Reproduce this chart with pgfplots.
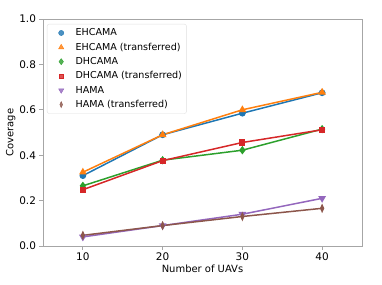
\documentclass[border=0pt]{standalone}
\usepackage{pgfplots}
\pgfplotsset{compat=1.18}
\usepackage{fontspec}
\setmainfont{DejaVu Sans}
\definecolor{c0}{HTML}{1F77B4}
\definecolor{c1}{HTML}{FF7F0E}
\definecolor{c2}{HTML}{2CA02C}
\definecolor{c3}{HTML}{D62728}
\definecolor{c4}{HTML}{9467BD}
\definecolor{c5}{HTML}{8C564B}
\begin{document}
\begin{tikzpicture}[x=1bp,y=1bp]
\begin{axis}[
  at={(0,0)}, anchor=south west,
  scale only axis, width=319bp, height=227bp,
  xmin=5, xmax=45, ymin=0, ymax=1,
  xtick={10,20,30,40}, ytick={0,0.2,0.4,0.6,0.8,1.0},
  yticklabel style={/pgf/number format/.cd,fixed,fixed zerofill,precision=1},
  /pgf/number format/assume math mode=true,
  tick align=outside, tick pos=left,
  major tick length=3.5bp,
  axis line style={gray!70, line width=0.8pt},
  every tick/.style={gray!70, line width=0.8pt},
  tick label style={font=\fontsize{10.5}{12}\selectfont},
  label style={font=\fontsize{10}{12}\selectfont},
  xlabel={Number of UAVs}, ylabel={Coverage},
  xlabel style={yshift=3bp}, ylabel style={yshift=-3bp},
  every axis plot/.append style={line width=1.5pt, mark size=2.6pt},
]
\addplot[c0, mark=*, mark options={solid,fill=c0,draw=c0}] coordinates {(10,0.310) (20,0.490) (30,0.585) (40,0.675)};
\addplot[c1, mark=triangle*, mark options={solid,fill=c1,draw=c1}, mark size=3pt] coordinates {(10,0.325) (20,0.490) (30,0.600) (40,0.677)};
\addplot[c2, mark=diamond*, mark options={solid,fill=c2,draw=c2}, mark size=3pt] coordinates {(10,0.265) (20,0.378) (30,0.422) (40,0.515)};
\addplot[c3, mark=square*, mark options={solid,fill=c3,draw=c3}, mark size=2.3pt] coordinates {(10,0.248) (20,0.376) (30,0.456) (40,0.512)};
\addplot[c4, mark=triangle*, mark options={solid,fill=c4,draw=c4,rotate=180}, mark size=3pt] coordinates {(10,0.040) (20,0.090) (30,0.140) (40,0.210)};
\addplot[c5, mark=diamond*, mark options={solid,fill=c5,draw=c5,xscale=0.6}, mark size=3pt] coordinates {(10,0.047) (20,0.090) (30,0.130) (40,0.166)};
\end{axis}
\begin{axis}[
  at={(0,0)}, anchor=south west,
  scale only axis, width=319bp, height=227bp,
  xmin=5, xmax=45, ymin=0, ymax=1,
  hide axis,
  legend style={at={(0.0125,0.978)}, anchor=north west, font=\fontsize{9.6}{11.5}\selectfont,
    draw=gray!25, rounded corners=2pt, inner sep=2.5pt, row sep=1.7pt, fill=white, fill opacity=0.8, text opacity=1},
  legend cell align=left,
  legend image code/.code={\path[draw=none] plot[only marks] coordinates {(0.4cm,0cm)}; \path (0cm,0cm) (0.83cm,0cm);},
]
\addlegendimage{only marks, c0, mark=*, mark options={fill=c0}, mark size=2.6pt}
\addlegendentry{EHCAMA}
\addlegendimage{only marks, c1, mark=triangle*, mark options={fill=c1}, mark size=3pt}
\addlegendentry{EHCAMA (transferred)}
\addlegendimage{only marks, c2, mark=diamond*, mark options={fill=c2}, mark size=3pt}
\addlegendentry{DHCAMA}
\addlegendimage{only marks, c3, mark=square*, mark options={fill=c3}, mark size=2.3pt}
\addlegendentry{DHCAMA (transferred)}
\addlegendimage{only marks, c4, mark=triangle*, mark options={fill=c4,rotate=180}, mark size=3pt}
\addlegendentry{HAMA}
\addlegendimage{only marks, c5, mark=diamond*, mark options={fill=c5,xscale=0.6}, mark size=3pt}
\addlegendentry{HAMA (transferred)}
\end{axis}
\pgfresetboundingbox
\path (-43,-39) rectangle (339,246);
\end{tikzpicture}
\end{document}
